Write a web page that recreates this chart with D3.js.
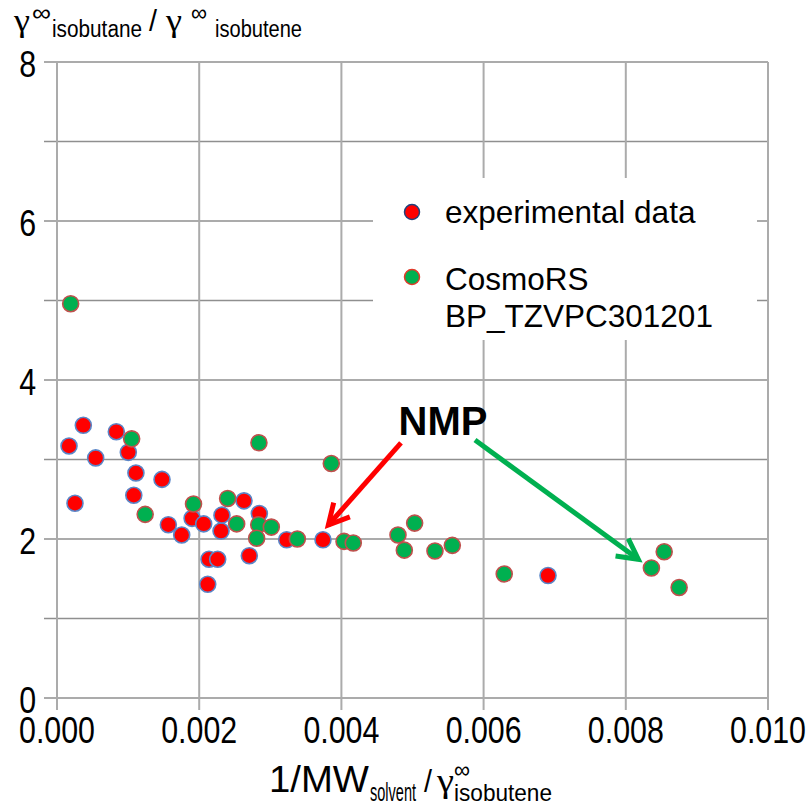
<html>
<head>
  <title>isobutane / isobutene</title>
  <style>
  body {
    margin: 0;
    background: #fff;
    font-family: "Liberation Sans", Arial, sans-serif;
  }
  .grid-h { stroke: #8f8f8f; stroke-width: 1.5; }
  .grid-v { stroke: #ababab; stroke-width: 2; }
  </style>
</head>
<body>
  <div id='chart'></div>

  <script src="https://d3js.org/d3.v7.min.js"></script>
  <script>
  // experimental data (red)
  var expX = [0.000169, 0.00037, 0.000544, 0.000834, 0.001003, 0.00111, 0.001477, 0.000253,
              0.00108, 0.001566, 0.001754, 0.0019, 0.002063, 0.002307, 0.00232, 0.00263,
              0.002846, 0.002705, 0.002138, 0.00226, 0.00212, 0.00323, 0.003741, 0.006906]
  var expY = [3.17, 3.43, 3.02, 3.35, 3.09, 2.83, 2.75, 2.45,
              2.55, 2.18, 2.05, 2.26, 2.19, 2.10, 2.30, 2.48,
              2.32, 1.79, 1.745, 1.745, 1.43, 1.99, 1.99, 1.54]

  // CosmoRS BP_TZVPC301201 (green)
  var cosX = [0.000192, 0.00105, 0.00124, 0.00192, 0.0024, 0.002527, 0.002837, 0.003014,
              0.002808, 0.00284, 0.00338, 0.003858, 0.004037, 0.004167, 0.004796, 0.00503,
              0.004885, 0.005316, 0.00556, 0.00629, 0.00836, 0.00854, 0.00875]
  var cosY = [4.96, 3.26, 2.31, 2.44, 2.51, 2.19, 2.18, 2.15,
              2.01, 3.21, 2.00, 2.95, 1.97, 1.95, 2.05, 2.20,
              1.86, 1.85, 1.92, 1.56, 1.635, 1.84, 1.39]

  var xTicks = [0, 0.002, 0.004, 0.006, 0.008, 0.010]
  var yGrid = [0, 1, 2, 3, 4, 5, 6, 7, 8]
  var yLabels = [0, 2, 4, 6, 8]
  var seriesNames = ["experimental data", "CosmoRS", "BP_TZVPC301201"]

  // NMP annotation, in data units
  var nmpLabel = {text: "NMP", x: 0.005429, y: 3.308}
  var arrows = [
    {from: [0.004838, 3.208], to: [0.003816, 2.176], color: "#ff0000"},
    {from: [0.005879, 3.245], to: [0.008176, 1.745], color: "#00b050"}
  ]

  var W = 808, H = 803
  var x = d3.scaleLinear().domain([0, 0.010]).range([57, 768])
  var y = d3.scaleLinear().domain([0, 8]).range([698, 62])

  var svg = d3.select("#chart").append("svg")
    .attr("width", W)
    .attr("height", H)

  // squeeze text horizontally, the original fonts are narrow
  function squeeze(sel, k){
    sel.each(function(){
      var w = this.getComputedTextLength()
      d3.select(this).attr("textLength", w * k).attr("lengthAdjust", "spacingAndGlyphs")
    })
  }

  // grid
  svg.append("g").selectAll("line")
    .data(yGrid)
    .enter().append("line")
      .attr("class", "grid-h")
      .attr("x1", x(0) - 13)
      .attr("x2", x(0.010))
      .attr("y1", function(d){ return y(d) })
      .attr("y2", function(d){ return y(d) })

  svg.append("g").selectAll("line")
    .data(xTicks)
    .enter().append("line")
      .attr("class", "grid-v")
      .attr("x1", function(d){ return x(d) })
      .attr("x2", function(d){ return x(d) })
      .attr("y1", y(8))
      .attr("y2", y(0) + 12)

  // tick labels
  var xl = svg.append("g").selectAll("text")
    .data(xTicks)
    .enter().append("text")
      .attr("x", function(d){ return x(d) })
      .attr("y", y(0) + 45)
      .attr("text-anchor", "middle")
      .style("font-size", "37px")
      .text(function(d){ return d3.format(".3f")(d) })
  squeeze(xl, 0.82)

  var yl = svg.append("g").selectAll("text")
    .data(yLabels)
    .enter().append("text")
      .attr("x", 36)
      .attr("y", function(d){ return y(d) + 15 })
      .attr("text-anchor", "end")
      .style("font-size", "37px")
      .text(function(d){ return d })
  squeeze(yl, 0.82)

  // axis titles, pieces with sub/superscripts
  var titleBits = [
    {t: "\u03b3", x: 14, y: 31, s: 31, w: 16, g: 1},
    {t: "\u221e", x: 32, y: 21, s: 24, w: 19},
    {t: "isobutane", x: 52, y: 37, s: 23, w: 90},
    {t: "/", x: 149, y: 31, s: 30, w: 8},
    {t: "\u03b3", x: 166, y: 31, s: 31, w: 16, g: 1},
    {t: "\u221e", x: 191, y: 21, s: 24, w: 16},
    {t: "isobutene", x: 215, y: 37, s: 23, w: 87},
    {t: "1/MW", x: 269, y: 792, s: 36, w: 100},
    {t: "solvent", x: 370, y: 801, s: 25, w: 46},
    {t: "/", x: 424, y: 792, s: 32, w: 8},
    {t: "\u03b3", x: 437, y: 792, s: 33, w: 17, g: 1},
    {t: "\u221e", x: 454, y: 778, s: 24, w: 16},
    {t: "isobutene", x: 454, y: 801, s: 24, w: 98}
  ]
  svg.append("g").selectAll("text")
    .data(titleBits)
    .enter().append("text")
      .attr("x", function(d){ return d.x })
      .attr("y", function(d){ return d.y })
      .attr("textLength", function(d){ return d.w })
      .attr("lengthAdjust", "spacingAndGlyphs")
      .style("font-family", function(d){ return d.g ? "'Liberation Serif'" : null })
      .style("font-size", function(d){ return d.s + "px" })
      .text(function(d){ return d.t })

  // legend box (white, hides grid)
  var lg = svg.append("g")
  lg.append("rect")
    .attr("x", 373).attr("y", 178)
    .attr("width", 384).attr("height", 162)
    .attr("fill", "#fff")
  lg.append("circle").attr("cx", 412).attr("cy", 212).attr("r", 7.5)
    .attr("fill", "#ff0000").attr("stroke", "#23407a").attr("stroke-width", 1.5)
  lg.append("circle").attr("cx", 412).attr("cy", 277).attr("r", 7.5)
    .attr("fill", "#00b050").attr("stroke", "#e03a2a").attr("stroke-width", 1.5)
  lg.append("text").attr("x", 445).attr("y", 223).style("font-size", "31.5px").text(seriesNames[0])
  lg.append("text").attr("x", 445).attr("y", 290).style("font-size", "31.5px").text(seriesNames[1])
  lg.append("text").attr("x", 445).attr("y", 327).style("font-size", "31.5px").text(seriesNames[2])

  // points: red first, green on top
  var expData = expX.map(function(v, i){ return {x: v, y: expY[i]} })
  var cosData = cosX.map(function(v, i){ return {x: v, y: cosY[i]} })

  svg.append("g").selectAll("circle")
    .data(expData)
    .enter().append("circle")
      .attr("r", 8)
      .attr("cx", function(d){ return x(d.x) })
      .attr("cy", function(d){ return y(d.y) })
      .attr("fill", "#ff0000")
      .attr("stroke", "#5a86c8")
      .attr("stroke-width", 1.6)

  svg.append("g").selectAll("circle")
    .data(cosData)
    .enter().append("circle")
      .attr("r", 8)
      .attr("cx", function(d){ return x(d.x) })
      .attr("cy", function(d){ return y(d.y) })
      .attr("fill", "#00b050")
      .attr("stroke", "#c0504d")
      .attr("stroke-width", 1.6)

  // arrows
  arrows.forEach(function(a){
    var x0 = x(a.from[0]), y0 = y(a.from[1])
    var x1 = x(a.to[0]), y1 = y(a.to[1])
    var ang = Math.atan2(y0 - y1, x0 - x1)
    var len = 23, spread = 28 * Math.PI / 180
    var g = svg.append("g")
      .attr("fill", "none")
      .attr("stroke", a.color)
      .attr("stroke-width", 5)
    g.append("line").attr("x1", x0).attr("y1", y0).attr("x2", x1).attr("y2", y1)
    g.append("path")
      .attr("stroke-linejoin", "miter")
      .attr("d", "M" + (x1 + len * Math.cos(ang - spread)) + "," + (y1 + len * Math.sin(ang - spread)) +
                 "L" + x1 + "," + y1 +
                 "L" + (x1 + len * Math.cos(ang + spread)) + "," + (y1 + len * Math.sin(ang + spread)))
  })

  svg.append("text")
    .attr("x", x(nmpLabel.x))
    .attr("y", y(nmpLabel.y))
    .attr("text-anchor", "middle")
    .style("font-size", "40px")
    .style("font-weight", "bold")
    .text(nmpLabel.text)
  </script>
</body>
</html>
